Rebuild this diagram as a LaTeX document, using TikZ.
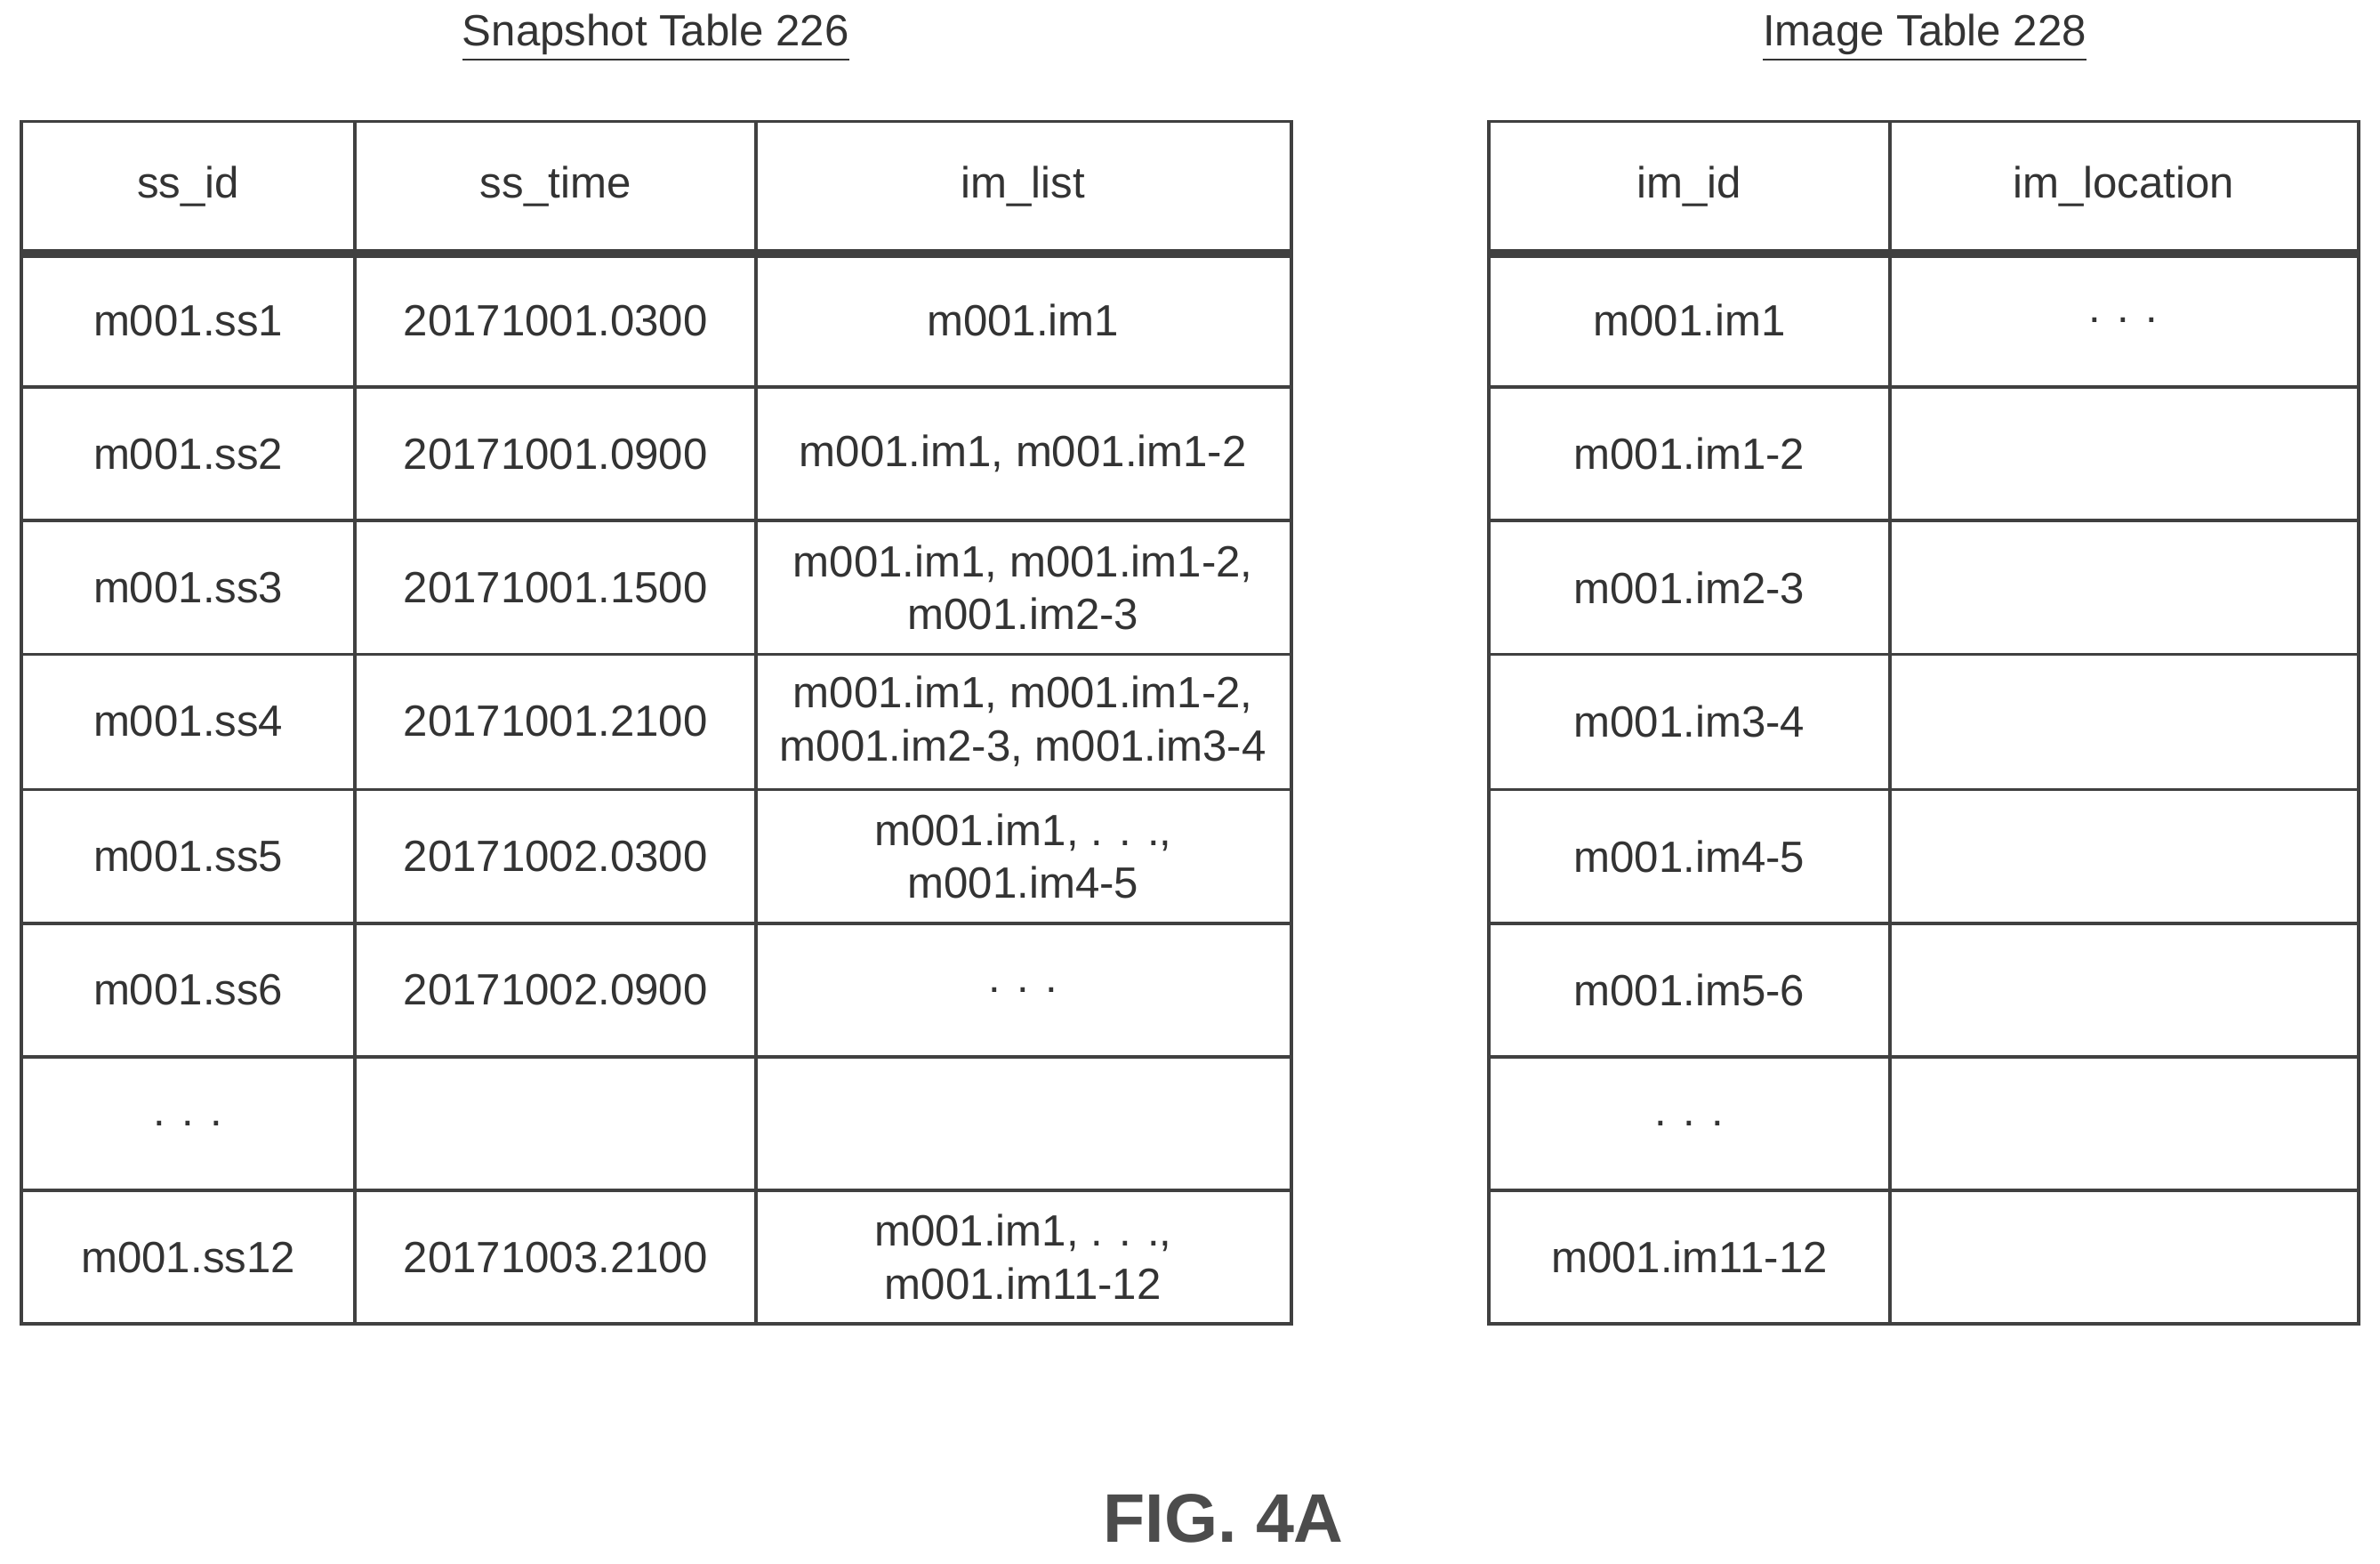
\documentclass[tikz,border=0pt]{standalone}
\usepackage{fontspec}
\setmainfont{Liberation Sans}
\usetikzlibrary{positioning}
\begin{document}
\begin{tikzpicture}[x=0.01707cm,y=-0.01707cm,
	cell/.style={align=center,font=\fontsize{14}{17}\selectfont,text=black!80},
	grid/.style={draw=black!75,line width=1.1pt}]
	\useasboundingbox (0,0) rectangle (1568,1030);

	% titles
	\node[cell] (sstitle) at (432,25) {\underline{Snapshot Table 226}};
	\node[cell] (imtitle) at (1268,25) {\underline{Image Table 228}};
	\node[font=\fontsize{22}{26}\selectfont\bfseries,text=black!70] (fig) at (806,1000) {FIG. 4A};

	% snapshot table grid
	\draw[grid] (14,80) rectangle (851,872);
	\foreach \x in {234,498} \draw[grid] (\x,80) -- (\x,872);
	\foreach \y in {255,343,431,520,608,696,784} \draw[grid] (14,\y) -- (851,\y);
	\draw[grid,line width=2.6pt] (14,167) -- (851,167);

	% image table grid
	\draw[grid] (981,80) rectangle (1554,872);
	\draw[grid] (1245,80) -- (1245,872);
	\foreach \y in {255,343,431,520,608,696,784} \draw[grid] (981,\y) -- (1554,\y);
	\draw[grid,line width=2.6pt] (981,167) -- (1554,167);

	% snapshot table cells
	\foreach \n/\y/\a/\b/\c in {
		h/123/ss\_id/ss\_time/im\_list,
		r1/211/m001.ss1/20171001.0300/m001.im1,
		r2/299/m001.ss2/20171001.0900/{m001.im1, m001.im1-2},
		r3/387/m001.ss3/20171001.1500/{m001.im1, m001.im1-2,\\m001.im2-3},
		r4/475/m001.ss4/20171001.2100/{m001.im1, m001.im1-2,\\m001.im2-3, m001.im3-4},
		r5/564/m001.ss5/20171002.0300/{m001.im1, . . .,\\m001.im4-5},
		r6/652/m001.ss6/20171002.0900/{. . .},
		r7/740/{. . .}//,
		r8/828/m001.ss12/20171003.2100/{m001.im1, . . .,\\m001.im11-12}}{
		\node[cell] (ssid\n) at (124,\y) {\a};
		\node[cell] (sstime\n) at (366,\y) {\b};
		\node[cell] (imlist\n) at (674,\y) {\c};
	}

	% image table cells
	\foreach \n/\y/\a/\b in {
		h/123/im\_id/im\_location,
		r1/211/m001.im1/{. . .},
		r2/299/m001.im1-2/,
		r3/387/m001.im2-3/,
		r4/475/m001.im3-4/,
		r5/564/m001.im4-5/,
		r6/652/m001.im5-6/,
		r7/740/{. . .}/,
		r8/828/m001.im11-12/}{
		\node[cell] (imid\n) at (1113,\y) {\a};
		\node[cell] (imloc\n) at (1399,\y) {\b};
	}
\end{tikzpicture}
\end{document}
